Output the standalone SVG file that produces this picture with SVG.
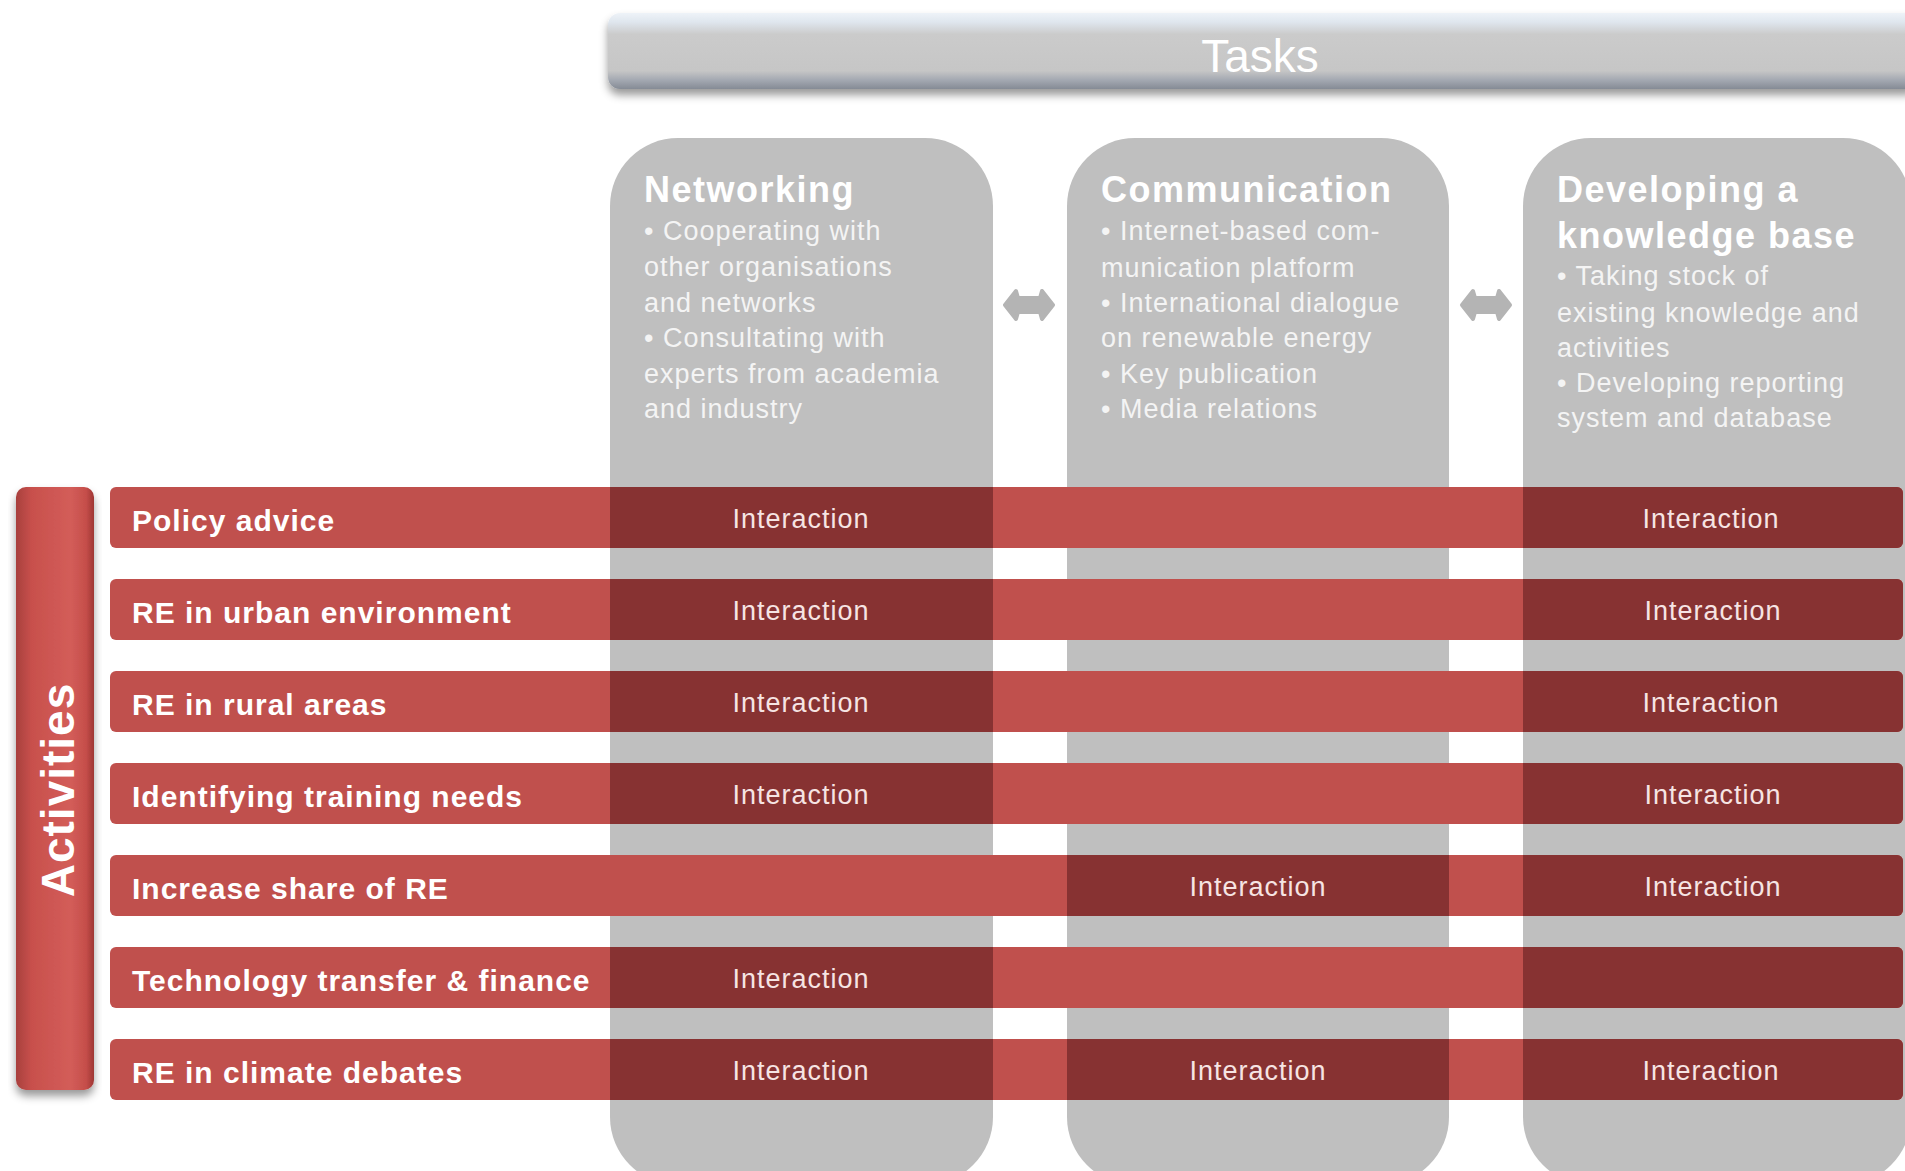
<svg xmlns="http://www.w3.org/2000/svg" width="1905" height="1171" viewBox="0 0 1905 1171">
<defs>
<style>
.col{fill:#bfbfbf;}
.arr{fill:#b4b4b4;stroke:#b4b4b4;stroke-width:4;stroke-linejoin:round;}
.hdr{font-family:"Liberation Sans",Arial,sans-serif;font-weight:bold;font-size:36px;letter-spacing:1.5px;fill:#ffffff;}
.body{font-family:"Liberation Sans",Arial,sans-serif;font-size:27px;letter-spacing:1px;fill:#f4f4f4;}
.bar{fill:#c0504d;}
.dark{fill:#873232;}
.lbl{font-family:"Liberation Sans",Arial,sans-serif;font-weight:bold;font-size:30px;letter-spacing:1px;fill:#ffffff;}
.int{font-family:"Liberation Sans",Arial,sans-serif;font-size:27px;letter-spacing:1px;fill:#f6e4e3;text-anchor:middle;}
</style>
<linearGradient id="gTasks" x1="0" y1="0" x2="0" y2="1">
<stop offset="0" stop-color="#eef3f8"/>
<stop offset="0.12" stop-color="#dfe6ee"/>
<stop offset="0.28" stop-color="#cbcbcb"/>
<stop offset="0.76" stop-color="#c6c6c6"/>
<stop offset="0.88" stop-color="#a4a9b2"/>
<stop offset="1" stop-color="#858b95"/>
</linearGradient>
<linearGradient id="gAct" x1="0" y1="0" x2="1" y2="0">
<stop offset="0" stop-color="#a8403d"/>
<stop offset="0.2" stop-color="#c8504c"/>
<stop offset="0.7" stop-color="#d35d59"/>
<stop offset="0.9" stop-color="#c54e4a"/>
<stop offset="1" stop-color="#9e3633"/>
</linearGradient>
<filter id="sh" x="-10%" y="-10%" width="120%" height="140%">
<feDropShadow dx="0" dy="6" stdDeviation="4" flood-color="#000" flood-opacity="0.4"/>
</filter>
</defs>
<rect width="1905" height="1171" fill="#ffffff"/>

<g id="tasks">
<rect x="608" y="13" width="1310" height="76" rx="12" fill="url(#gTasks)" filter="url(#sh)"/>
<text x="1260" y="72" text-anchor="middle" font-family="'Liberation Sans',Arial,sans-serif" font-size="46" fill="#ffffff">Tasks</text>
</g>

<g id="col-networking">
<rect class="col" x="610" y="138" width="383" height="1047" rx="68"/>
<text class="hdr" x="644" y="202">Networking</text>
<text class="body" x="644" y="240">• Cooperating with</text>
<text class="body" x="644" y="276">other organisations</text>
<text class="body" x="644" y="312">and networks</text>
<text class="body" x="644" y="347">• Consultating with</text>
<text class="body" x="644" y="383">experts from academia</text>
<text class="body" x="644" y="418">and industry</text>
</g>

<g id="col-communication">
<rect class="col" x="1067" y="138" width="382" height="1047" rx="68"/>
<text class="hdr" x="1101" y="202">Communication</text>
<text class="body" x="1101" y="240">• Internet-based com-</text>
<text class="body" x="1101" y="277">munication platform</text>
<text class="body" x="1101" y="312">• International dialogue</text>
<text class="body" x="1101" y="347">on renewable energy</text>
<text class="body" x="1101" y="383">• Key publication</text>
<text class="body" x="1101" y="418">• Media relations</text>
</g>

<g id="col-knowledge">
<rect class="col" x="1523" y="138" width="388" height="1047" rx="68"/>
<text class="hdr" x="1557" y="202">Developing a</text>
<text class="hdr" x="1557" y="248">knowledge base</text>
<text class="body" x="1557" y="285">• Taking stock of</text>
<text class="body" x="1557" y="322">existing knowledge and</text>
<text class="body" x="1557" y="357">activities</text>
<text class="body" x="1557" y="392">• Developing reporting</text>
<text class="body" x="1557" y="427">system and database</text>
</g>

<g id="connectors">
<path class="arr" d="M1005,305 L1016,291 L1018,298 L1040,298 L1042,291 L1053,305 L1042,319 L1040,312 L1018,312 L1016,319 Z"/>
<path class="arr" d="M1462,305 L1473,291 L1475,298 L1497,298 L1499,291 L1510,305 L1499,319 L1497,312 L1475,312 L1473,319 Z"/>
</g>

<g id="activities">
<rect x="16" y="487" width="78" height="603" rx="10" fill="url(#gAct)" filter="url(#sh)"/>
<text transform="translate(74,790) rotate(-90)" text-anchor="middle" font-family="'Liberation Sans',Arial,sans-serif" font-weight="bold" font-size="46" letter-spacing="1" fill="#ffffff">Activities</text>
</g>

<g id="row-policy">
<rect class="bar" x="110" y="487" width="1793" height="61" rx="6"/>
<rect class="dark" x="610" y="487" width="383" height="61"/>
<path class="dark" d="M1523,487 h374 a6,6 0 0 1 6,6 v49 a6,6 0 0 1 -6,6 h-374 z"/>
<text class="lbl" x="132" y="531">Policy advice</text>
<text class="int" x="801" y="528">Interaction</text>
<text class="int" x="1711" y="528">Interaction</text>
</g>

<g id="row-urban">
<rect class="bar" x="110" y="579" width="1793" height="61" rx="6"/>
<rect class="dark" x="610" y="579" width="383" height="61"/>
<path class="dark" d="M1523,579 h374 a6,6 0 0 1 6,6 v49 a6,6 0 0 1 -6,6 h-374 z"/>
<text class="lbl" x="132" y="623">RE in urban environment</text>
<text class="int" x="801" y="620">Interaction</text>
<text class="int" x="1713" y="620">Interaction</text>
</g>

<g id="row-rural">
<rect class="bar" x="110" y="671" width="1793" height="61" rx="6"/>
<rect class="dark" x="610" y="671" width="383" height="61"/>
<path class="dark" d="M1523,671 h374 a6,6 0 0 1 6,6 v49 a6,6 0 0 1 -6,6 h-374 z"/>
<text class="lbl" x="132" y="715">RE in rural areas</text>
<text class="int" x="801" y="712">Interaction</text>
<text class="int" x="1711" y="712">Interaction</text>
</g>

<g id="row-training">
<rect class="bar" x="110" y="763" width="1793" height="61" rx="6"/>
<rect class="dark" x="610" y="763" width="383" height="61"/>
<path class="dark" d="M1523,763 h374 a6,6 0 0 1 6,6 v49 a6,6 0 0 1 -6,6 h-374 z"/>
<text class="lbl" x="132" y="807">Identifying training needs</text>
<text class="int" x="801" y="804">Interaction</text>
<text class="int" x="1713" y="804">Interaction</text>
</g>

<g id="row-share">
<rect class="bar" x="110" y="855" width="1793" height="61" rx="6"/>
<rect class="dark" x="1067" y="855" width="382" height="61"/>
<path class="dark" d="M1523,855 h374 a6,6 0 0 1 6,6 v49 a6,6 0 0 1 -6,6 h-374 z"/>
<text class="lbl" x="132" y="899">Increase share of RE</text>
<text class="int" x="1258" y="896">Interaction</text>
<text class="int" x="1713" y="896">Interaction</text>
</g>

<g id="row-technology">
<rect class="bar" x="110" y="947" width="1793" height="61" rx="6"/>
<rect class="dark" x="610" y="947" width="383" height="61"/>
<path class="dark" d="M1523,947 h374 a6,6 0 0 1 6,6 v49 a6,6 0 0 1 -6,6 h-374 z"/>
<text class="lbl" x="132" y="991">Technology transfer &amp; finance</text>
<text class="int" x="801" y="988">Interaction</text>
</g>

<g id="row-climate">
<rect class="bar" x="110" y="1039" width="1793" height="61" rx="6"/>
<rect class="dark" x="610" y="1039" width="383" height="61"/>
<rect class="dark" x="1067" y="1039" width="382" height="61"/>
<path class="dark" d="M1523,1039 h374 a6,6 0 0 1 6,6 v49 a6,6 0 0 1 -6,6 h-374 z"/>
<text class="lbl" x="132" y="1083">RE in climate debates</text>
<text class="int" x="801" y="1080">Interaction</text>
<text class="int" x="1258" y="1080">Interaction</text>
<text class="int" x="1711" y="1080">Interaction</text>
</g>
</svg>
